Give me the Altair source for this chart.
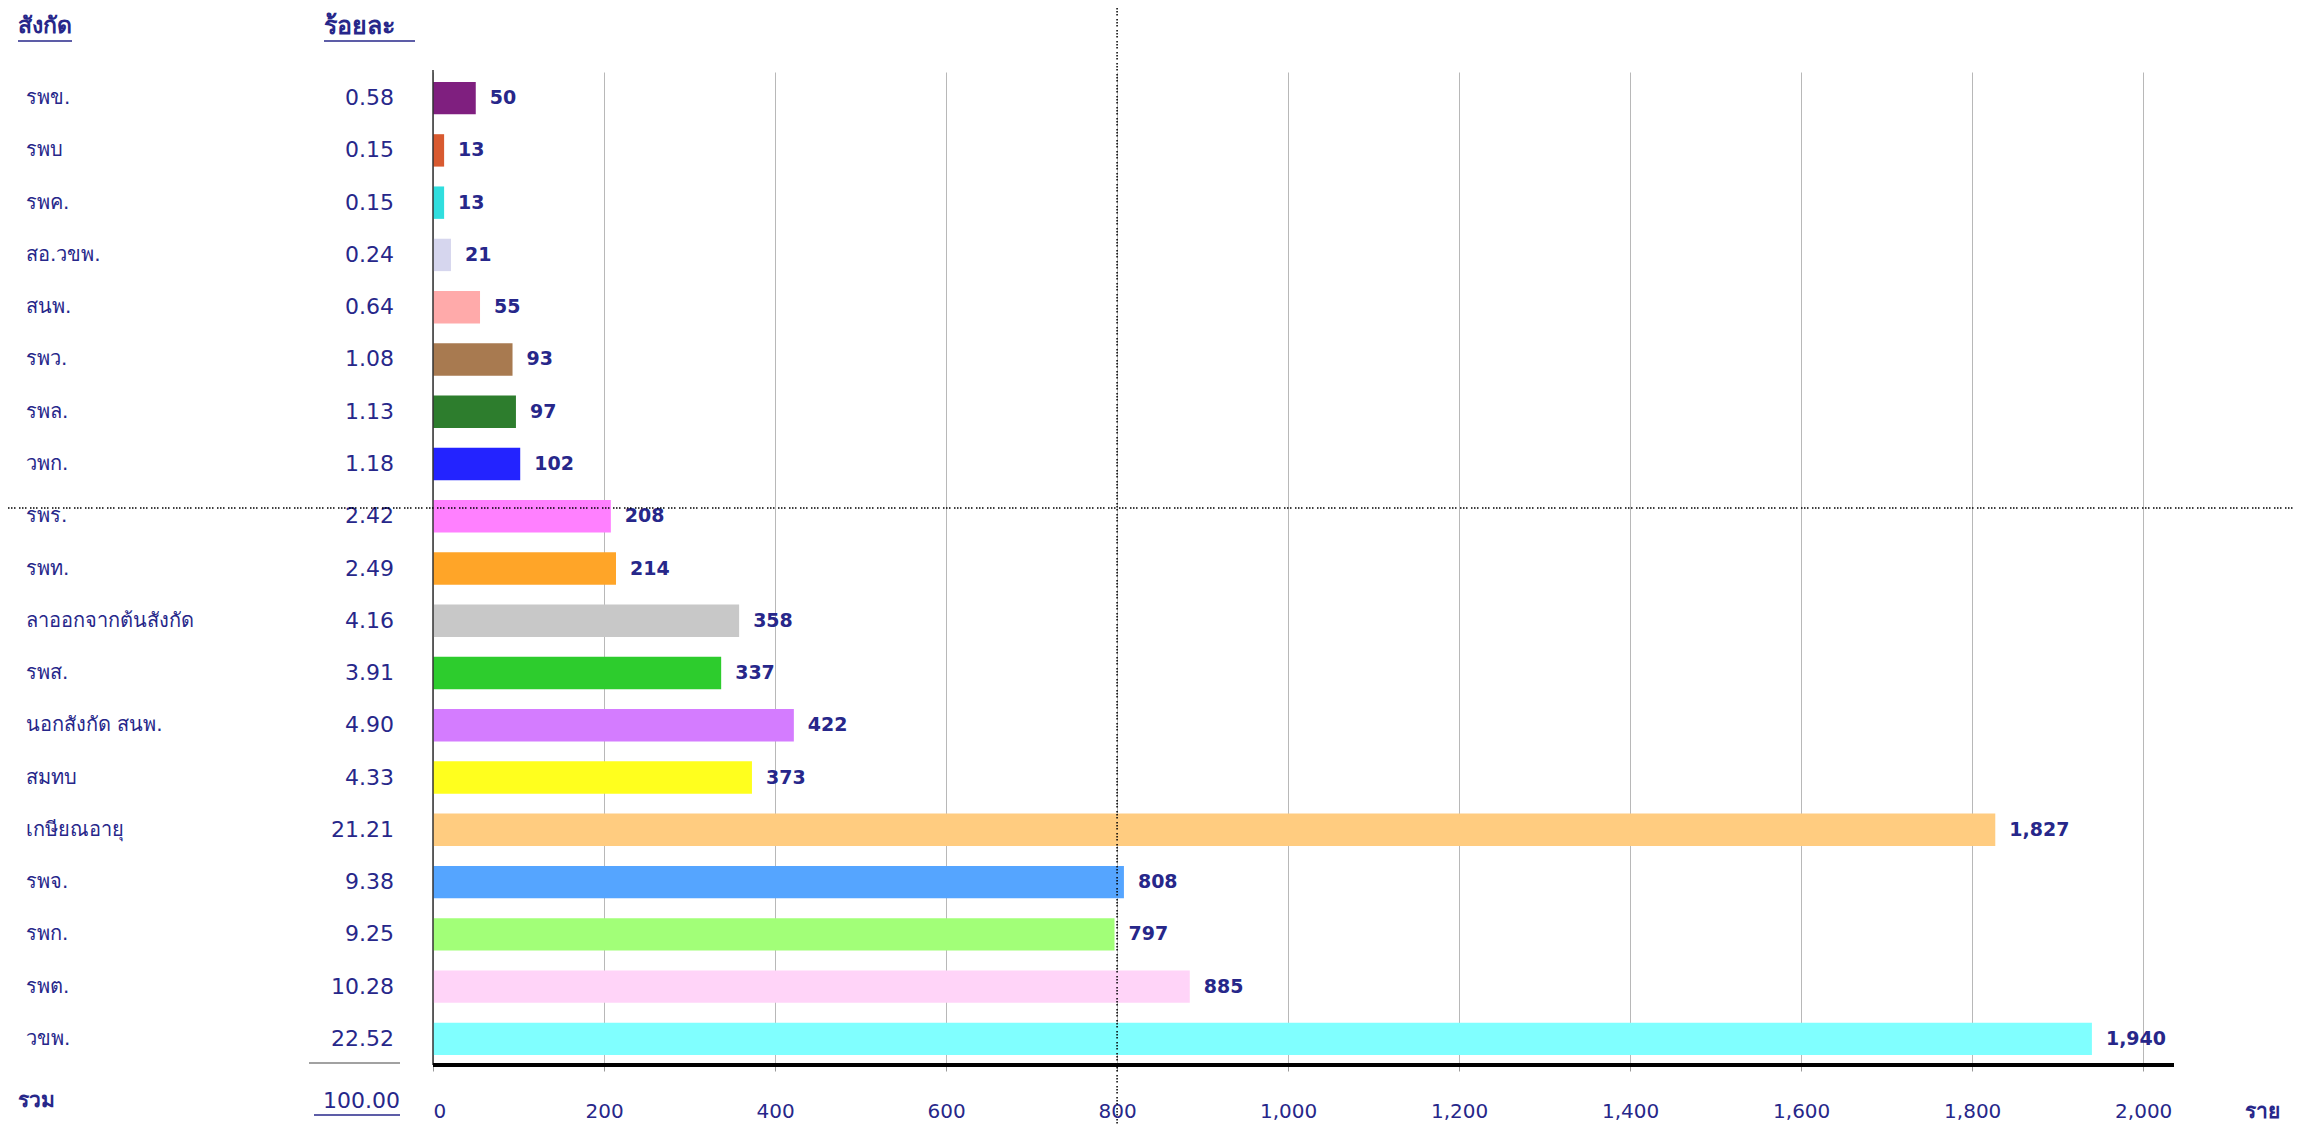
import altair as alt
import pandas as pd

# ---------------- data ----------------
categories = ["รพข.", "รพบ", "รพค.", "สอ.วขพ.", "สนพ.", "\u2009รพว.", "รพล.", "วพก.",
              "รพร.", "รพท.", "\u2009ลาออกจากต้นสังกัด", "รพส.", "นอกสังกัด สนพ.", "สมทบ",
              "เกษียณอายุ", "รพจ.", "\u2002รพก.", "รพต.", "วขพ."]
counts = [50, 13, 13, 21, 55, 93, 97, 102, 208, 214, 358, 337, 422, 373,
          1827, 808, 797, 885, 1940]
percents = ["0.58", "0.15", "0.15", "0.24", "0.64", "1.08", "1.13", "1.18", "2.42", "2.49",
            "4.16", "3.91", "4.90", "4.33", "21.21", "9.38", "9.25", "10.28", "22.52"]
colors = ["#7f1f7f", "#d85a30", "#30dede", "#d6d6ee", "#ffaaaa", "#a87a50", "#2d7d2d",
          "#2323ff", "#ff80ff", "#ffa528", "#c8c8c8", "#2dcc2d", "#d47cff", "#ffff1e",
          "#ffcc80", "#55a5ff", "#a2ff78", "#ffd4f8", "#80ffff"]
x_ticks = [0, 200, 400, 600, 800, 1000, 1200, 1400, 1600, 1800, 2000]
header_cat = "สังกัด"
header_pct = "ร้อยละ"
total_label = "รวม"
total_pct = "100.00"
unit_label = "ราย"
cursor_x = 800

df = pd.DataFrame({"cat": categories, "n": counts, "pct": percents})
one = pd.DataFrame({"k": [0]})

# ---------------- style ----------------
FONT = "Tahoma, 'DejaVu Sans', sans-serif"
NAVY = "#27278a"
W, H = 1741, 993

yenc = alt.Y("cat:N", sort=None, axis=None,
             scale=alt.Scale(domain=categories, paddingInner=0.38, paddingOuter=0.19))
xscale = alt.Scale(domain=[0, 2036], nice=False, zero=True)
xaxis = alt.Axis(values=x_ticks, format=",d", title=None, grid=True, gridColor="#b8b8b8",
                 gridWidth=1, domain=False, ticks=True, tickSize=6, tickColor="#9a9a9a",
                 labelPadding=30, labelFontSize=20, labelColor=NAVY, labelFont=FONT)
xenc = alt.X("n:Q", scale=xscale, axis=xaxis)

base = alt.Chart(df)

bars = base.mark_bar().encode(
    x=xenc,
    y=yenc,
    color=alt.Color("cat:N", scale=alt.Scale(domain=categories, range=colors), legend=None),
)

values = base.mark_text(align="left", baseline="middle", dx=14, fontSize=19,
                        fontWeight="bold", font=FONT, color=NAVY).encode(
    x=xenc, y=yenc, text=alt.Text("n:Q", format=","))

cat_labels = base.mark_text(align="left", baseline="middle", fontSize=20, font=FONT,
                            color=NAVY).encode(
    x=alt.value(-407), y=yenc, text="cat:N")

pct_labels = base.mark_text(align="right", baseline="middle", fontSize=22, font=FONT,
                            color=NAVY).encode(
    x=alt.value(-39), y=yenc, text="pct:N")

ob = alt.Chart(one)

def txt(s, x, y, align="left", size=20, weight="normal"):
    return ob.mark_text(text=s, align=align, baseline="middle", fontSize=size,
                        fontWeight=weight, font=FONT, color=NAVY).encode(
        x=alt.value(x), y=alt.value(y))

def hline(x1, x2, y, color, width, dash=None):
    kw = dict(color=color, strokeWidth=width)
    if dash:
        kw["strokeDash"] = dash
    return ob.mark_rule(**kw).encode(x=alt.value(x1), x2=alt.value(x2), y=alt.value(y))

h1 = txt(header_cat, -415, -46, size=23, weight="bold")
h2 = txt(header_pct, -109, -46, size=25, weight="bold")
u1 = hline(-415, -361, -31, NAVY, 1.5)
u2 = hline(-109, -18, -31, NAVY, 1.5)

tot_line = hline(-124, -33, 991, "#444444", 1.2)
tot_lab = txt(total_label, -415, 1029, size=21, weight="bold")
tot_pct = txt(total_pct, -33, 1029, align="right", size=22)
tot_u = hline(-119, -33, 1043, NAVY, 1.5)
unit = txt(unit_label, 1812, 1040, size=21, weight="bold")

left_axis = ob.mark_rule(color="#333333", strokeWidth=1.5).encode(
    x=alt.value(0), y=alt.value(-2), y2=alt.value(H))
bottom_axis = hline(0, W, H, "#000000", 4)

dash = [1.5, 1.5, 1.5, 1.5, 1.5, 3.5]
v_cursor = ob.mark_rule(color="#000000", strokeWidth=1.5, strokeDash=dash).encode(
    x=alt.datum(cursor_x, scale=xscale, axis=xaxis), y=alt.value(-64), y2=alt.value(1052))
h_cursor = hline(-425, 1866, 436, "#000000", 1.5, dash)

chart = alt.layer(
    bars, values, cat_labels, pct_labels, h1, h2, u1, u2, tot_line, tot_lab, tot_pct,
    tot_u, unit, left_axis, bottom_axis, v_cursor, h_cursor
).properties(
    width=W, height=H,
    autosize=alt.AutoSizeParams(type="none"),
    padding={"left": 425, "top": 64, "right": 120, "bottom": 59},
    background="white",
).configure_view(stroke=None)

chart.save("out.html", embed_options={"renderer": "svg", "actions": False})
